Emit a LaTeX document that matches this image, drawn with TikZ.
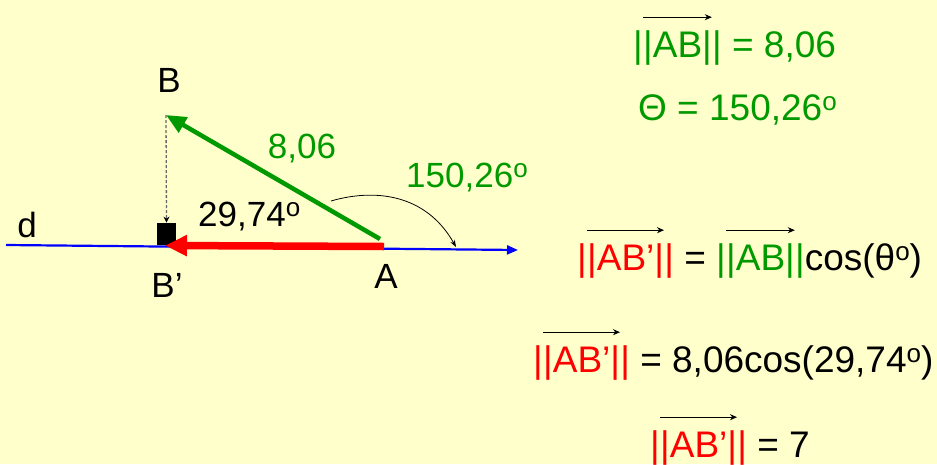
\documentclass[tikz,border=0pt]{standalone}
\usepackage{fontspec}
\setmainfont{Liberation Sans}
\usetikzlibrary{arrows.meta,positioning}
\definecolor{slidebg}{HTML}{FFFFCC}
\definecolor{vecgreen}{HTML}{009900}
\definecolor{vecred}{HTML}{FF0000}
\definecolor{lineblue}{HTML}{0000FF}
\definecolor{dropgray}{HTML}{666666}
\newcommand\sdeg{\raisebox{10pt}{\fontsize{26}{26}\selectfont o}}
\newcommand\vnorm[1]{|\tikz[baseline=(vv.base)]{\node[inner sep=0pt,outer sep=0pt] (vv) {|#1|};
  \draw[black,line width=.8pt,-{Stealth[length=7pt,width=6pt]}]
    ([yshift=13pt]vv.north west) -- ([yshift=13pt]vv.north east);}|}

\begin{document}
\begin{tikzpicture}[x=1pt,y=-1pt,
    lbl/.style={font=\fontsize{35}{40}\selectfont,inner sep=0pt,anchor=base},
    eqn/.style={font=\fontsize{37}{42}\selectfont,inner sep=0pt,anchor=base west}]
  \fill[slidebg] (0,0) rectangle (937,464);
  \useasboundingbox (0,0) rectangle (937,464);
  % points on the figure
  \coordinate (dL) at (6,245);
  \coordinate (dR) at (518,250);
  \coordinate (A) at (384,246.5);
  \coordinate (Ag) at (380,239);
  \coordinate (B) at (166,115);
  \coordinate (Bp) at (165,245.5);
  \coordinate (t0) at (331,201);
  \coordinate (t1) at (456,247);
  \node[fill=black,minimum width=19pt,minimum height=22pt,inner sep=0pt,
    anchor=south] (sq) at (166.5,245) {};
  % line d and vectors
  \draw[lineblue,line width=2.2pt,-{Triangle[length=11pt,width=9pt]}] (dL) -- (dR);
  \draw[dropgray,line width=1.3pt,dash pattern=on 3pt off 2pt,
    -{Stealth[length=6pt,width=6pt,color=black]}] (B) -- (sq.north);
  \draw[vecred,line width=7.5pt,-{Triangle[length=22pt,width=20pt]}] (A) -- (Bp);
  \draw[vecgreen,line width=4.5pt,-{Triangle[length=20pt,width=17pt]}] (Ag) -- (B);
  \draw[line width=.8pt,-{Stealth[length=7pt,width=5pt]}]
    (t0) .. controls (372,189) and (425,192) .. (t1);
  % labels
  \node[lbl] (lB) at (169,92) {B};
  \node[lbl] (ld) at (27,237) {d};
  \node[lbl] (lBp) at (167,297) {B’};
  \node[lbl] (lA) at (386,288) {A};
  \node[lbl,text=vecgreen] (llen) at (302,158) {8,06};
  \node[lbl,text=vecgreen,anchor=base west] (ltheta) at (406,187) {150,26\sdeg};
  \node[lbl,anchor=base west] (lalpha) at (198,226) {29,74\sdeg};
  % equations
  \node[eqn,text=vecgreen] (eqnorm) at (633,57) {\vnorm{AB} = 8,06};
  \node[eqn,text=vecgreen] (eqang) at (638,120) {Θ = 150,26\sdeg};
  \node[eqn] (eqproj) at (577,270)
    {\textcolor{vecred}{\vnorm{AB’}} = \textcolor{vecgreen}{\vnorm{AB}}cos(θ\sdeg)};
  \node[eqn] (eqnum) at (533,372)
    {\textcolor{vecred}{\vnorm{AB’}} = 8,06cos(29,74\sdeg)};
  \node[eqn] (eqres) at (650,457) {\textcolor{vecred}{\vnorm{AB’}} = 7};
\end{tikzpicture}
\end{document}
